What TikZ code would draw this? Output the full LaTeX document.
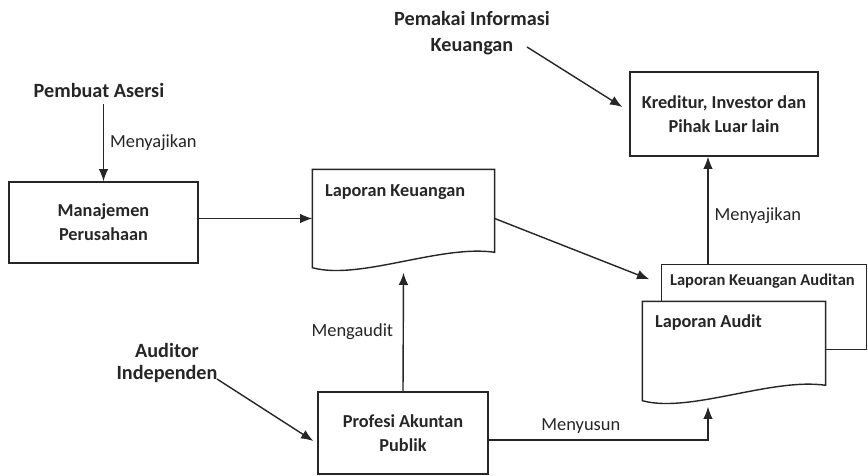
\documentclass[tikz,border=0pt]{standalone}
\usepackage{fontspec}
\setmainfont{Carlito}
\usetikzlibrary{arrows.meta,positioning,calc}

\tikzset{
  box/.style={draw, align=center, inner sep=0pt, font=\bfseries\fontsize{10.4}{13.5}\selectfont},
  actor/.style={align=center, font=\bfseries\fontsize{11.5}{15}\selectfont},
  verb/.style={font=\fontsize{10.5}{12}\selectfont},
  doctitle/.style={anchor=west, inner sep=0pt, font=\bfseries\fontsize{10.4}{12}\selectfont},
  arr/.style={-{Latex[length=7pt,width=5.5pt]}}
}

\begin{document}
\begin{tikzpicture}[x=0.02cm,y=-0.02cm,line width=0.8pt,color=black!85]
\fill[white] (0,0) rectangle (868,476);

\node[actor] (pk) at (472,33) {Pemakai Informasi\\Keuangan};
\node[actor] (pa) at (99,90) {Pembuat Asersi};
\node[actor, font=\bfseries\fontsize{11.5}{13}\selectfont] (au) at (167,363) {Auditor\\Independen};

\node[box, minimum width=3.78cm, minimum height=1.62cm] (mj) at (103.5,222.5) {Manajemen\\Perusahaan};
\node[box, minimum width=3.76cm, minimum height=1.68cm] (kr) at (724,114) {Kreditur, Investor dan\\Pihak Luar lain};
\node[box, minimum width=3.4cm, minimum height=1.64cm] (pr) at (403,433) {Profesi Akuntan\\Publik};

\node[minimum width=3.62cm, minimum height=1.94cm] (lk) at (403.5,218.5) {};
\draw (lk.north west) -- (lk.north east) -- ++(0,83) .. controls +(-54,-8) and +(47,13) .. (lk.south west) -- cycle;
\node[doctitle] (lkt) at ([shift={(12,23)}]lk.north west) {Laporan Keuangan};

\node[minimum width=4.08cm, minimum height=1.68cm] (lka) at (764,307) {};
\node[minimum width=3.64cm, minimum height=1.96cm] (la) at (734,351) {};
\draw (lka.west |- la.north) -- (lka.north west) -- (lka.north east) -- (lka.south east) -- (la.east |- lka.south);
\draw (la.north west) -- (la.north east) -- ++(0,84) .. controls +(-54,-8) and +(47,13) .. (la.south west) -- cycle;
\node[doctitle, font=\bfseries\fontsize{9.4}{11}\selectfont] (lkat) at ([shift={(8,17)}]lka.north west) {Laporan Keuangan Auditan};
\node[doctitle] (lat) at ([shift={(12,21)}]la.north west) {Laporan Audit};

\coordinate (col) at (708,0);
\coordinate (pkout) at (527,47);
\coordinate (auout) at (217,379);

\draw[arr] (pa.south -| mj.north) -- node[verb,right] (v1) {Menyajikan} (mj.north);
\draw[arr] (lk.west -| mj.east) -- (lk.west);
\draw[arr] (pkout) -- ([shift={(-7,-7)}]kr.west);
\draw[arr] (col |- lka.north) -- node[verb,right,pos=0.45] (v2) {Menyajikan} (col |- kr.south);
\draw[arr] (lk.east) -- ([shift={(-20,-2)}]lkat.west);
\draw[arr] (pr.north) -- node[verb,left=2pt] (v3) {Mengaudit} ([shift={(0,5)}]lk.south);
\draw[arr] (auout) -- ([shift={(-4,8)}]pr.west);
\draw[arr] ([shift={(0,7)}]pr.east) -| node[verb,above,pos=0.21] (v4) {Menyusun} ($(col |- la.south)+(0,6)$);
\end{tikzpicture}
\end{document}
